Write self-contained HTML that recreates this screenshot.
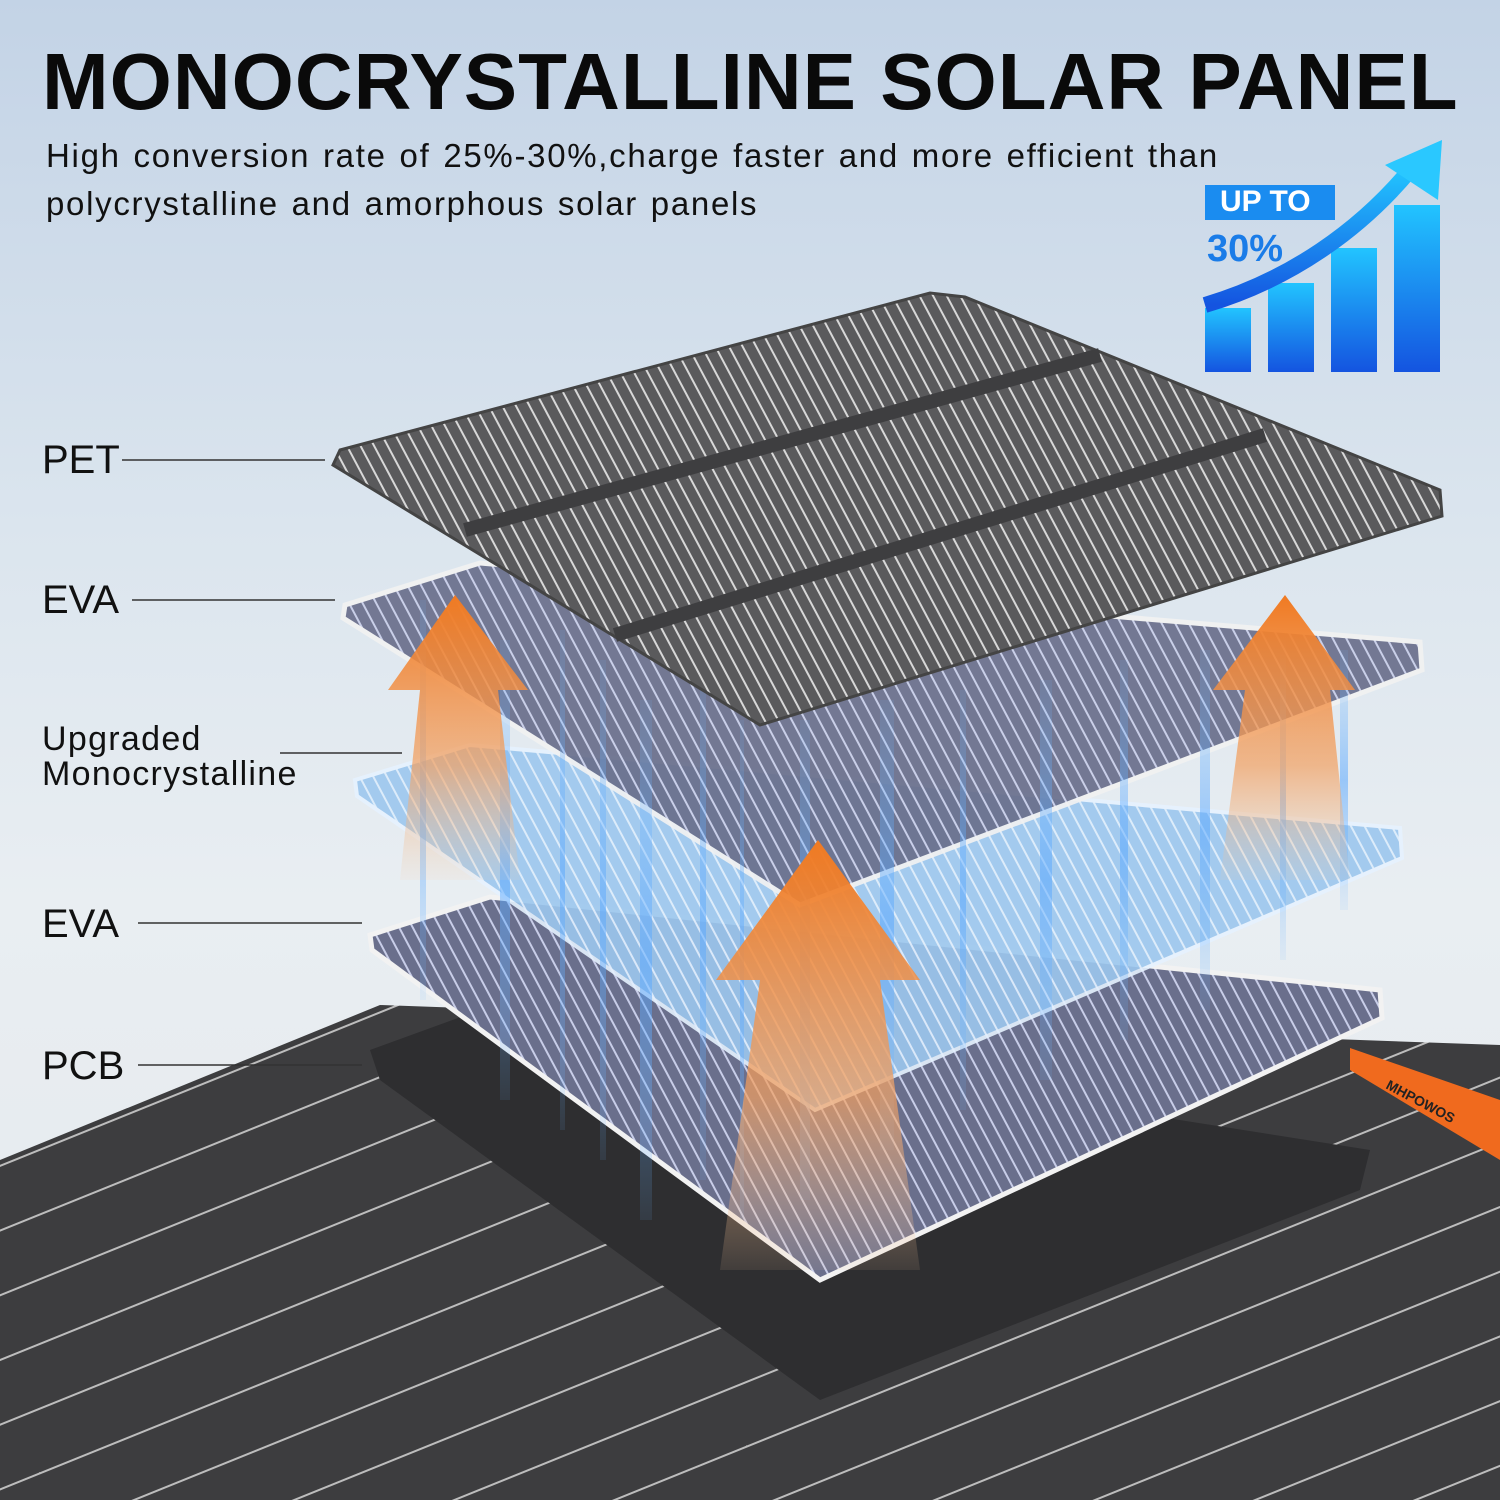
<!DOCTYPE html>
<html><head><meta charset="utf-8"><style>
html,body{margin:0;padding:0;width:1500px;height:1500px;overflow:hidden}
body{background:linear-gradient(180deg,#c3d3e6 0%,#dbe5ee 35%,#e9eef2 60%,#e4e8ec 100%);font-family:"Liberation Sans",sans-serif;position:relative}
.t{position:absolute;margin:0;white-space:nowrap}
</style></head><body>
<svg width="1500" height="1500" style="position:absolute;left:0;top:0">
<defs>
<pattern id="st" width="12" height="12" patternUnits="userSpaceOnUse" patternTransform="rotate(-28)"><rect width="12" height="12" fill="#5a5a5c"/><rect width="2" height="12" fill="#d8d8d8"/></pattern>
<pattern id="stb" width="12" height="12" patternUnits="userSpaceOnUse" patternTransform="rotate(-28)"><rect width="12" height="12" fill="#6a6f8c"/><rect width="2" height="12" fill="#c8cde8"/></pattern>
<pattern id="stl" width="12" height="12" patternUnits="userSpaceOnUse" patternTransform="rotate(-28)"><rect width="12" height="12" fill="#9cc7ee"/><rect width="2" height="12" fill="#dcecfb"/></pattern>
<pattern id="base" width="60" height="60" patternUnits="userSpaceOnUse" patternTransform="rotate(-22)"><rect width="60" height="60" fill="#3d3d3f"/><rect width="60" height="2" fill="#bdbdbd"/></pattern>
<linearGradient id="bar" x1="0" y1="0" x2="0" y2="1"><stop offset="0" stop-color="#22c4ff"/><stop offset="1" stop-color="#1454e0"/></linearGradient>
<linearGradient id="or" x1="0" y1="0" x2="0" y2="1"><stop offset="0" stop-color="#f07a22"/><stop offset="0.6" stop-color="#f3a060" stop-opacity="0.7"/><stop offset="1" stop-color="#f6c9a0" stop-opacity="0.1"/></linearGradient>
<linearGradient id="vs" x1="0" y1="0" x2="0" y2="1"><stop offset="0" stop-color="#6fb6ff" stop-opacity="0.1"/><stop offset="0.5" stop-color="#5aa8ff" stop-opacity="0.55"/><stop offset="1" stop-color="#6fb6ff" stop-opacity="0.1"/></linearGradient>
</defs>
<polygon points="0,1160 380,1005 1500,1045 1500,1500 0,1500" fill="url(#base)"/>
<polygon points="1350,1048 1500,1100 1500,1160 1350,1070" fill="#f06a1e"/>
<text x="1385" y="1088" transform="rotate(28 1385 1088)" font-size="14" font-weight="bold" fill="#222">MHPOWOS</text>
<polygon points="370,1050 480,1010 1370,1150 1360,1190 820,1400 380,1080" fill="#2e2e30"/>
<polygon points="370,935 490,897 1380,990 1382,1018 820,1280 372,950" fill="url(#stb)" stroke="#f2f2f2" stroke-width="5"/>
<polygon points="355,780 470,745 1400,828 1402,858 815,1110 357,796" fill="url(#stl)" opacity="0.9" stroke="#e6f2ff" stroke-width="4"/>
<polygon points="345,605 480,563 1420,642 1422,670 800,905 343,618" fill="url(#stb)" opacity="0.92" stroke="#f2f2f2" stroke-width="5"/>
<g fill="url(#vs)">
<rect x="420" y="600" width="6" height="400"/><rect x="500" y="640" width="10" height="460"/><rect x="560" y="630" width="5" height="500"/>
<rect x="640" y="700" width="12" height="520"/><rect x="700" y="680" width="6" height="500"/><rect x="800" y="720" width="10" height="480"/>
<rect x="880" y="700" width="14" height="450"/><rect x="960" y="690" width="6" height="420"/><rect x="1040" y="680" width="12" height="400"/>
<rect x="1120" y="660" width="8" height="380"/><rect x="1200" y="650" width="10" height="360"/><rect x="1280" y="640" width="6" height="320"/>
<rect x="1340" y="650" width="8" height="260"/><rect x="740" y="720" width="4" height="500"/><rect x="600" y="660" width="6" height="500"/>
</g>
<polygon points="340,450 930,293 965,297 1440,490 1442,516 760,725 333,465" fill="url(#st)" stroke="#444" stroke-width="3"/>
<line x1="465" y1="530" x2="1100" y2="355" stroke="#3e3e40" stroke-width="14"/>
<line x1="615" y1="635" x2="1265" y2="435" stroke="#3e3e40" stroke-width="14"/>
<polygon points="455,595 528,690 498,690 520,880 400,880 420,690 388,690" fill="url(#or)"/>
<polygon points="1285,595 1355,690 1330,690 1350,880 1220,880 1245,690 1213,690" fill="url(#or)"/>
<polygon points="818,840 920,980 880,980 920,1270 720,1270 760,980 716,980" fill="url(#or)"/>
<g stroke="#333" stroke-width="1.5">
<line x1="122" y1="460" x2="325" y2="460"/><line x1="132" y1="600" x2="335" y2="600"/>
<line x1="280" y1="753" x2="402" y2="753"/><line x1="138" y1="923" x2="362" y2="923"/><line x1="138" y1="1065" x2="362" y2="1065"/>
</g>
<rect x="1205" y="308" width="46" height="64" fill="url(#bar)"/>
<rect x="1268" y="283" width="46" height="89" fill="url(#bar)"/>
<rect x="1331" y="248" width="46" height="124" fill="url(#bar)"/>
<rect x="1394" y="205" width="46" height="167" fill="url(#bar)"/>
<path d="M1205,305 C1290,280 1360,230 1410,170" stroke="url(#bar)" stroke-width="16" fill="none"/>
<polygon points="1442,140 1438,200 1385,165" fill="#2ac8ff"/>
<rect x="1205" y="185" width="130" height="35" fill="#1a8cf0"/>
</svg>
<div class="t" style="left:1220px;top:185px;font-size:30px;font-weight:bold;color:#fff">UP TO</div>
<div class="t" style="left:1207px;top:228px;font-size:38px;font-weight:bold;color:#1a7ce8">30%</div>
<div class="t" style="left:42px;top:36px;font-size:80px;font-weight:bold;color:#0a0a0a;letter-spacing:1px">MONOCRYSTALLINE SOLAR PANEL</div>
<div class="t" style="left:46px;top:132px;font-size:33px;color:#111;line-height:48px;letter-spacing:1.7px;word-spacing:2px">High conversion rate of 25%-30%,charge faster and more efficient than<br>polycrystalline and amorphous solar panels</div>
<div class="t" style="left:42px;top:438px;font-size:40px;color:#111">PET</div>
<div class="t" style="left:42px;top:578px;font-size:40px;color:#111">EVA</div>
<div class="t" style="left:42px;top:722px;font-size:34px;color:#111;line-height:35px;letter-spacing:1.3px">Upgraded<br>Monocrystalline</div>
<div class="t" style="left:42px;top:902px;font-size:40px;color:#111">EVA</div>
<div class="t" style="left:42px;top:1044px;font-size:40px;color:#111">PCB</div>
</body></html>
